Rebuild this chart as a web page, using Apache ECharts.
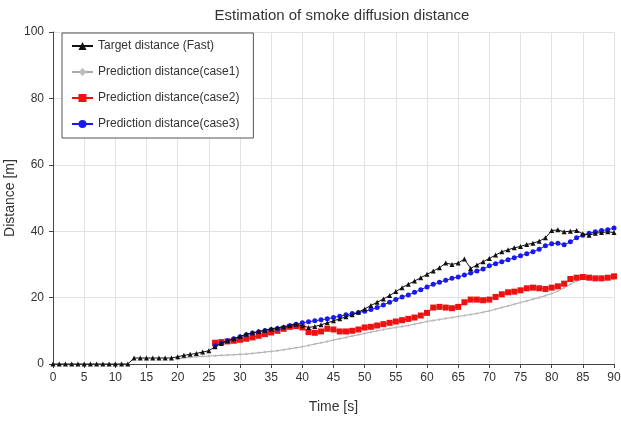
<!DOCTYPE html>
<html>
<head>
<meta charset="utf-8">
<script src="https://cdn.jsdelivr.net/npm/echarts@6/dist/echarts.min.js"></script>
<style>html,body{margin:0;padding:0;background:#fff}#c{width:621px;height:421px}</style>
</head>
<body>
<div id="c"></div>
<script>
var time = [0,1,2,3,4,5,6,7,8,9,10,11,12,13,14,15,16,17,18,19,20,21,22,23,24,25,26,27,28,29,30,31,32,33,34,35,36,37,38,39,40,41,42,43,44,45,46,47,48,49,50,51,52,53,54,55,56,57,58,59,60,61,62,63,64,65,66,67,68,69,70,71,72,73,74,75,76,77,78,79,80,81,82,83,84,85,86,87,88,89,90];
var xTicks = [0,5,10,15,20,25,30,35,40,45,50,55,60,65,70,75,80,85,90];
var yTicks = [0,20,40,60,80,100];

var targetFast = [0,0,0,0,0,0,0,0,0,0,0,0,0,1.8,1.8,1.8,1.8,1.8,1.8,1.8,
  2.2,2.6,2.9,3.2,3.6,4.0,5.2,6.2,7.0,7.6,8.3,9.0,9.4,9.8,10.2,10.6,10.9,11.2,11.6,12.0,
  11.5,11.0,11.3,11.8,12.4,13.0,13.6,14.2,14.8,15.6,16.6,17.6,18.6,19.6,20.6,21.8,23.0,24.0,25.0,26.0,
  27.0,28.0,29.0,30.4,30.0,30.4,31.6,28.8,29.8,30.8,31.8,32.8,33.8,34.4,35.0,35.4,36.0,36.4,37.0,38.0,
  40.2,40.4,39.8,40.0,40.2,39.2,38.8,39.4,39.6,39.8,39.6];

var case1 = [null,null,null,null,null,null,null,null,null,null,null,null,null,null,null,null,null,null,null,null,
  1.6,1.8,2.0,2.2,2.3,2.4,2.5,2.6,2.7,2.8,2.9,3.0,3.2,3.4,3.6,3.8,4.0,4.3,4.6,4.9,
  5.2,5.6,6.0,6.4,6.8,7.2,7.6,8.0,8.4,8.8,9.2,9.6,10.0,10.4,10.7,11.0,11.3,11.6,12.0,12.4,
  12.8,13.1,13.4,13.7,14.0,14.3,14.6,14.9,15.2,15.6,16.0,16.5,17.0,17.5,18.0,18.5,19.0,19.5,20.0,20.6,
  21.2,22.0,23.0,24.0,25.0,25.6,25.6,25.6,25.6,25.6,25.6];

var case2 = [null,null,null,null,null,null,null,null,null,null,null,null,null,null,null,null,null,null,null,null,
  null,null,null,null,null,null,6.4,6.6,6.8,7.0,7.3,7.6,8.0,8.5,9.0,9.5,10.0,10.6,11.2,11.4,
  11.0,9.6,9.4,9.8,10.6,10.4,9.8,9.8,10.0,10.4,11.0,11.2,11.6,12.0,12.4,12.8,13.2,13.6,14.0,14.6,
  15.4,17.0,17.2,17.0,16.8,17.2,18.6,19.4,19.4,19.2,19.4,20.2,21.0,21.6,21.8,22.2,22.8,23.0,22.8,22.6,
  23.0,23.4,24.2,25.6,26.0,26.2,26.0,25.8,25.8,26.0,26.4];

var case3 = [null,null,null,null,null,null,null,null,null,null,null,null,null,null,null,null,null,null,null,null,
  null,null,null,null,null,null,5.5,6.3,7.0,7.6,8.2,8.8,9.3,9.7,10.1,10.4,10.7,11.0,11.5,12.0,
  12.4,12.7,13.0,13.3,13.6,14.0,14.4,14.8,15.2,15.5,15.9,16.4,17.0,17.8,18.6,19.4,20.2,20.8,21.6,22.4,
  23.2,24.0,24.6,25.2,25.8,26.2,26.8,27.4,28.0,28.6,29.6,30.2,30.8,31.4,32.0,32.6,33.2,33.8,34.6,35.6,
  36.2,36.4,35.9,36.8,38.0,38.8,39.4,39.8,40.2,40.4,41.0];

var names = ['Target distance (Fast)','Prediction distance(case1)','Prediction distance(case2)','Prediction distance(case3)'];

function pairs(vals){ return time.map(function(t,i){ return [t, vals[i]]; }); }

var font = 'Liberation Sans, Arial, sans-serif';
var chart = echarts.init(document.getElementById('c'), null, {renderer:'canvas'});
chart.setOption({
  animation:false,
  backgroundColor:'#fff',
  title:{text:'Estimation of smoke diffusion distance', left:337, textAlign:'center', top:3,
    textStyle:{fontFamily:font, fontSize:15, fontWeight:'normal', color:'#333'}},
  legend:{orient:'vertical', left:62, top:33, itemGap:14, itemWidth:21, itemHeight:10,
    padding:[7,14,8,9], borderColor:'#555', borderWidth:1, backgroundColor:'#fff',
    textStyle:{fontFamily:font, fontSize:12, color:'#333'}, data:names},
  grid:{left:53, right:7, top:32, bottom:57, containLabel:false, outerBoundsMode:'none'},
  xAxis:{type:'value', min:0, max:90, interval:5, name:'Time [s]', nameLocation:'middle', nameGap:36,
    nameMoveOverlap:false,
    nameTextStyle:{fontFamily:font, fontSize:14, color:'#333'},
    axisLine:{lineStyle:{color:'#444', width:1}}, axisTick:{show:true, length:4, lineStyle:{color:'#444'}},
    axisLabel:{fontFamily:font, fontSize:12, color:'#333', margin:8,
      formatter:function(v){ return xTicks.indexOf(v)>=0 ? String(v) : ''; }},
    splitLine:{show:true, lineStyle:{color:'#e2e2e2', width:1}}},
  yAxis:{type:'value', min:0, max:100, interval:20, name:'Distance [m]', nameLocation:'middle', nameGap:36,
    nameMoveOverlap:false,
    nameTextStyle:{fontFamily:font, fontSize:14, color:'#333'},
    axisLine:{show:true, lineStyle:{color:'#444', width:1}}, axisTick:{show:true, length:4, lineStyle:{color:'#444'}},
    axisLabel:{fontFamily:font, fontSize:12, color:'#333', margin:9,
      formatter:function(v){ return yTicks.indexOf(v)>=0 ? String(v) : ''; }},
    splitLine:{show:true, lineStyle:{color:'#e2e2e2', width:1}}},
  series:[
    {name:names[1], type:'line', data:pairs(case1), symbol:'diamond', symbolSize:3, connectNulls:false,
      lineStyle:{color:'#a8a8a8', width:1}, itemStyle:{color:'#bdbdbd'}, z:2},
    {name:names[2], type:'line', data:pairs(case2), symbol:'rect', symbolSize:6,
      lineStyle:{color:'#ee1111', width:1}, itemStyle:{color:'#ee1111'}, z:3},
    {name:names[3], type:'line', data:pairs(case3), symbol:'circle', symbolSize:5,
      lineStyle:{color:'#1a1aee', width:1}, itemStyle:{color:'#1a1aee'}, z:4},
    {name:names[0], type:'line', data:pairs(targetFast), symbol:'triangle', symbolSize:5,
      lineStyle:{color:'#111', width:1}, itemStyle:{color:'#111'}, z:5}
  ]
});
</script>
</body>
</html>
